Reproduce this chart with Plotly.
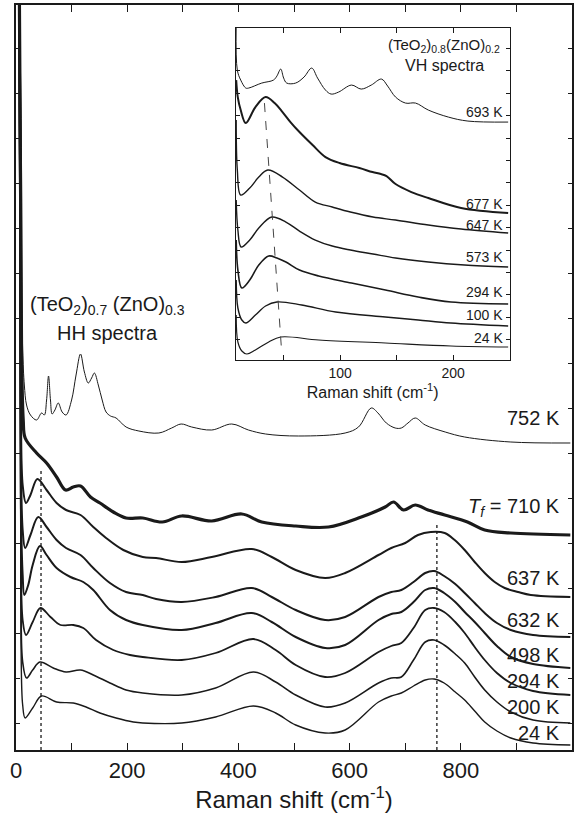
import plotly.graph_objects as go

# ---------------- Main panel: (TeO2)0.7(ZnO)0.3 HH spectra ----------------
# Raman shift (cm-1) and vertically stacked intensity (arb. units)
hh_752_x = [6, 9.5, 10.5, 12, 15, 19, 26, 37, 46, 51, 55, 58.5, 62, 65, 70, 76, 83, 90, 100, 108, 116, 123, 130, 136, 141, 148, 155, 162, 170, 180, 198, 221, 257, 280, 297, 316, 352, 388, 418, 449, 508, 592, 616, 639, 651, 666, 682, 693, 705, 718, 736, 772, 807, 890, 997]
hh_752_y = [745, 620, 480, 400, 365, 345, 335, 330, 337, 335, 350, 374, 350, 336, 340, 347, 338, 335, 350, 375, 396, 378, 367, 372, 377, 365, 350, 338, 334, 332, 323, 319, 317, 322, 326, 323, 320, 326, 320, 316, 314, 317, 323, 342, 337, 327, 322, 322, 327, 332, 325, 318, 313, 308, 307]

hh_710_x = [6, 10, 13, 16.5, 37, 55, 73, 89, 103, 116, 134, 151, 175, 198, 228, 263, 298, 352, 406, 442, 503, 562, 621, 664, 679, 697, 718, 741, 771, 812, 843, 890, 997]
hh_710_y = [760, 400, 330, 312, 297, 287, 273, 260, 263, 264, 253, 247, 238, 232, 232, 228, 234, 229, 236, 228, 224, 223, 233, 243, 248, 240, 245, 240, 235, 228, 220, 217, 215]

hh_637_x = [6, 9, 12, 18, 26, 38.5, 55, 73, 90, 116, 139, 162, 193, 228, 252, 298, 352, 424, 460, 503, 556, 592, 652, 675, 700, 723, 746, 771, 789, 807, 825, 843, 861, 879, 903, 926, 997]
hh_637_y = [760, 330, 265, 247, 255, 271, 260, 247, 240, 235, 223, 212, 200, 193, 192, 188, 193, 201, 193, 180, 172, 177, 195, 202, 207, 215, 218, 217, 210, 200, 188, 177, 168, 162, 158, 155, 153]

hh_632_x = [6, 9, 12, 16.5, 26, 40, 55, 73, 90, 116, 139, 169, 198, 228, 252, 298, 359, 424, 460, 503, 556, 592, 652, 675, 693, 715, 736, 752, 770, 790, 807, 825, 843, 865, 890, 930, 997]
hh_632_y = [760, 290, 220, 202, 215, 233, 223, 210, 202, 195, 182, 167, 158, 155, 151, 148, 153, 162, 153, 140, 130, 133, 153, 158, 160, 168, 177, 179, 174, 166, 157, 147, 137, 127, 120, 115, 113]

hh_498_x = [6, 9, 12, 15, 22, 30, 43, 55, 73, 98, 121, 139, 169, 198, 228, 298, 359, 424, 460, 503, 556, 592, 652, 675, 693, 715, 736, 752, 770, 790, 807, 825, 843, 865, 890, 930, 997]
hh_498_y = [760, 240, 175, 155, 165, 185, 204, 195, 182, 173, 168, 160, 140, 130, 125, 120, 127, 137, 128, 113, 102, 105, 130, 136, 138, 148, 160, 162, 157, 148, 138, 128, 117, 104, 93, 86, 82]

hh_294_x = [6, 9, 12, 18, 30, 44, 62, 80, 103, 121, 144, 175, 205, 228, 298, 359, 427, 467, 503, 556, 592, 652, 675, 693, 715, 736, 752, 770, 790, 807, 825, 843, 865, 890, 930, 997]
hh_294_y = [760, 200, 130, 115, 128, 142, 133, 125, 125, 122, 110, 100, 95, 93, 90, 97, 111, 100, 85, 73, 77, 98, 104, 107, 122, 140, 142, 138, 128, 117, 103, 90, 77, 67, 59, 55]

hh_200_x = [6, 9, 12, 19, 30, 43, 67, 90, 116, 139, 169, 198, 228, 298, 359, 427, 467, 503, 556, 592, 652, 675, 693, 715, 736, 752, 770, 790, 807, 825, 843, 865, 890, 930, 997]
hh_200_y = [760, 150, 88, 72, 80, 88, 82, 78, 80, 75, 67, 60, 57, 55, 62, 78, 68, 55, 43, 47, 67, 72, 73, 90, 108, 110, 105, 96, 87, 73, 60, 48, 38, 30, 27]

hh_24_x = [6, 9, 12, 16.5, 30, 46, 73, 103, 126, 151, 180, 211, 228, 298, 359, 427, 467, 503, 556, 592, 652, 675, 693, 715, 736, 752, 770, 790, 807, 825, 843, 865, 890, 930, 997]
hh_24_y = [760, 110, 45, 32, 42, 54, 48, 47, 43, 37, 32, 28, 27, 27, 33, 44, 37, 25, 17, 20, 48, 54, 57, 64, 70, 71, 67, 58, 50, 39, 28, 19, 12, 7, 5]

hh_labels = ["752 K", "<i>T</i><sub><i>f</i></sub> = 710 K", "637 K", "632 K", "498 K", "294 K", "200 K", "24 K"]
hh_label_y = [332, 243, 172, 130, 95, 69, 43, 17]

# dotted guide lines (peak positions, cm-1)
hh_peak_low = 45
hh_peak_high = 757

# ---------------- Inset: (TeO2)0.8(ZnO)0.2 VH spectra ----------------
vh_693_x = [8, 9, 12, 16.5, 19, 30.6, 41, 44, 47.4, 50, 52.7, 60.6, 68, 74.8, 80, 87, 92, 98.6, 110, 118.6, 127.5, 136.5, 142, 149, 157.8, 166.7, 178, 195.7, 213, 248.6]
vh_693_y = [335, 290, 280, 272, 272, 277, 280, 284, 291, 282, 277, 277, 283, 292, 282, 270, 266, 268, 275, 271, 275, 281, 274, 263, 257, 257, 250, 243, 239, 238]

vh_677_x = [8, 9.4, 12, 16.5, 25, 34, 42, 49, 56, 64, 75.6, 87, 99.5, 117, 128.6, 136, 141, 149, 163, 178, 207, 248.6]
vh_677_y = [280, 263, 250, 237, 253, 263, 257, 248, 238, 228, 215, 203, 197, 192, 188, 186, 184, 176, 168, 162, 152, 147]

vh_647_x = [8, 9, 12, 20, 28, 36, 49, 64, 78, 93, 109, 129, 149, 178, 207, 248.6]
vh_647_y = [240, 190, 165, 172, 183, 190, 183, 170, 158, 153, 148, 143, 140, 135, 131, 127]

vh_573_x = [8, 9.5, 12.4, 20, 28, 39.5, 52, 64, 78, 93, 109, 129, 149, 178, 210, 248.6]
vh_573_y = [160, 130, 113, 120, 132, 143, 138, 129, 120, 114, 110, 106, 102, 98, 95, 93]

vh_294_x = [8, 9.5, 13, 20, 28, 36.8, 44, 52, 64, 81, 110, 140, 169, 198, 248.6]
vh_294_y = [120, 90, 72, 80, 95, 104, 102, 98, 90, 84, 77, 70, 63, 58, 56]

vh_100_x = [8, 9.5, 13, 16.5, 25, 34, 44, 66, 96, 140, 169, 198, 248.6]
vh_100_y = [80, 52, 40, 37, 45, 54, 58, 55, 48, 43, 40, 37, 34]

vh_24_x = [8, 9.5, 13, 17.4, 25, 36.8, 47.4, 81, 140, 198, 248.6]
vh_24_y = [45, 18, 9, 6, 10, 18, 23, 20, 17, 14, 13]

vh_labels = ["693 K", "677 K", "647 K", "573 K", "294 K", "100 K", "24 K"]
vh_label_y = [248, 156, 135, 103, 68, 45, 22]

vh_peak_x = [33, 48]
vh_peak_y = [257, 12]

FONT = "Liberation Sans, Arial, sans-serif"
INK = "#1a1a1a"

fig = go.Figure()

hh_series = [
    (hh_752_x, hh_752_y, 1.0),
    (hh_710_x, hh_710_y, 3.2),
    (hh_637_x, hh_637_y, 2.0),
    (hh_632_x, hh_632_y, 2.0),
    (hh_498_x, hh_498_y, 2.0),
    (hh_294_x, hh_294_y, 1.8),
    (hh_200_x, hh_200_y, 1.6),
    (hh_24_x, hh_24_y, 1.4),
]
for xs, ys, w in hh_series:
    fig.add_trace(go.Scatter(x=xs, y=ys, mode="lines", xaxis="x", yaxis="y",
                             line=dict(color=INK, width=w, shape="spline", smoothing=1.0),
                             showlegend=False, hoverinfo="skip"))

fig.add_trace(go.Scatter(x=[hh_peak_low, hh_peak_low], y=[0, 282], mode="lines",
                         line=dict(color=INK, width=1.3, dash="dot"), showlegend=False))
fig.add_trace(go.Scatter(x=[hh_peak_high, hh_peak_high], y=[0, 227], mode="lines",
                         line=dict(color=INK, width=1.3, dash="dot"), showlegend=False))

vh_series = [
    (vh_693_x, vh_693_y, 1.0),
    (vh_677_x, vh_677_y, 2.0),
    (vh_647_x, vh_647_y, 1.4),
    (vh_573_x, vh_573_y, 1.4),
    (vh_294_x, vh_294_y, 1.6),
    (vh_100_x, vh_100_y, 1.4),
    (vh_24_x, vh_24_y, 1.2),
]
for xs, ys, w in vh_series:
    fig.add_trace(go.Scatter(x=xs, y=ys, mode="lines", xaxis="x2", yaxis="y2",
                             line=dict(color=INK, width=w, shape="spline", smoothing=1.0),
                             showlegend=False, hoverinfo="skip"))
fig.add_trace(go.Scatter(x=vh_peak_x, y=vh_peak_y, mode="lines", xaxis="x2", yaxis="y2",
                         line=dict(color="#444", width=1, dash="dash"), showlegend=False))

ann = []
for t, y in zip(hh_labels, hh_label_y):
    ann.append(dict(x=982, y=y, xref="x", yref="y", text=t, showarrow=False,
                    xanchor="right", yanchor="middle", font=dict(family=FONT, size=20, color=INK)))
ann.append(dict(x=165, y=445, xref="x", yref="y", showarrow=False,
                text="(TeO<sub>2</sub>)<sub>0.7</sub> (ZnO)<sub>0.3</sub>",
                font=dict(family=FONT, size=20, color=INK)))
ann.append(dict(x=165, y=417, xref="x", yref="y", showarrow=False, text="HH spectra",
                font=dict(family=FONT, size=20, color=INK)))
for t, y in zip(vh_labels, vh_label_y):
    ann.append(dict(x=246, y=y, xref="x2", yref="y2", text=t, showarrow=False,
                    xanchor="right", yanchor="middle", font=dict(family=FONT, size=14, color=INK)))
ann.append(dict(x=192, y=315, xref="x2", yref="y2", showarrow=False,
                text="(TeO<sub>2</sub>)<sub>0.8</sub>(ZnO)<sub>0.2</sub>",
                font=dict(family=FONT, size=15, color=INK)))
ann.append(dict(x=192, y=295, xref="x2", yref="y2", showarrow=False, text="VH spectra",
                font=dict(family=FONT, size=16, color=INK)))

main_major = [0, 200, 400, 600, 800]
main_minor = [100, 300, 500, 700, 900, 1000]
inset_major = [100, 200]
inset_minor = [50, 150, 250]

fig.update_layout(
    width=576, height=818,
    margin=dict(l=16, r=2, t=5, b=68),
    paper_bgcolor="white", plot_bgcolor="white",
    font=dict(family=FONT, color=INK),
    showlegend=False,
    annotations=ann,
    xaxis=dict(range=[0, 1000], tickmode="array", tickvals=main_major,
               ticks="inside", ticklen=7, tickwidth=1.3, tickcolor=INK,
               minor=dict(tickmode="array", tickvals=main_minor, ticks="inside",
                          ticklen=7, tickwidth=1.3, tickcolor=INK, showgrid=False),
               showline=True, linewidth=1.5, linecolor=INK, mirror="ticks",
               showgrid=False, zeroline=False, tickfont=dict(size=22),
               title=dict(text="Raman shift (cm<sup>-1</sup>)", font=dict(size=24), standoff=6),
               automargin=False),
    yaxis=dict(range=[0, 745], tick0=27, dtick=45, ticks="inside", ticklen=4,
               tickwidth=1, tickcolor=INK, showticklabels=False,
               showline=True, linewidth=1.5, linecolor=INK, mirror="ticks",
               showgrid=False, zeroline=False),
    xaxis2=dict(domain=[0.395, 0.888], anchor="y2", range=[7.5, 250],
                tickmode="array", tickvals=inset_major,
                ticks="inside", ticklen=5, tickwidth=1, tickcolor=INK,
                minor=dict(tickmode="array", tickvals=inset_minor, ticks="inside",
                           ticklen=5, tickwidth=1, tickcolor=INK, showgrid=False),
                showline=True, linewidth=1.2, linecolor=INK, mirror="ticks",
                showgrid=False, zeroline=False, tickfont=dict(size=14),
                title=dict(text="Raman shift (cm<sup>-1</sup>)", font=dict(size=16), standoff=2),
                automargin=False),
    yaxis2=dict(domain=[0.5235, 0.969], anchor="x2", range=[0, 332],
                tick0=20.4, dtick=22.4, ticks="inside", ticklen=4, tickwidth=1,
                tickcolor=INK, showticklabels=False,
                showline=True, linewidth=1.2, linecolor=INK, mirror="ticks",
                showgrid=False, zeroline=False),
)

fig.write_html("out.html")
